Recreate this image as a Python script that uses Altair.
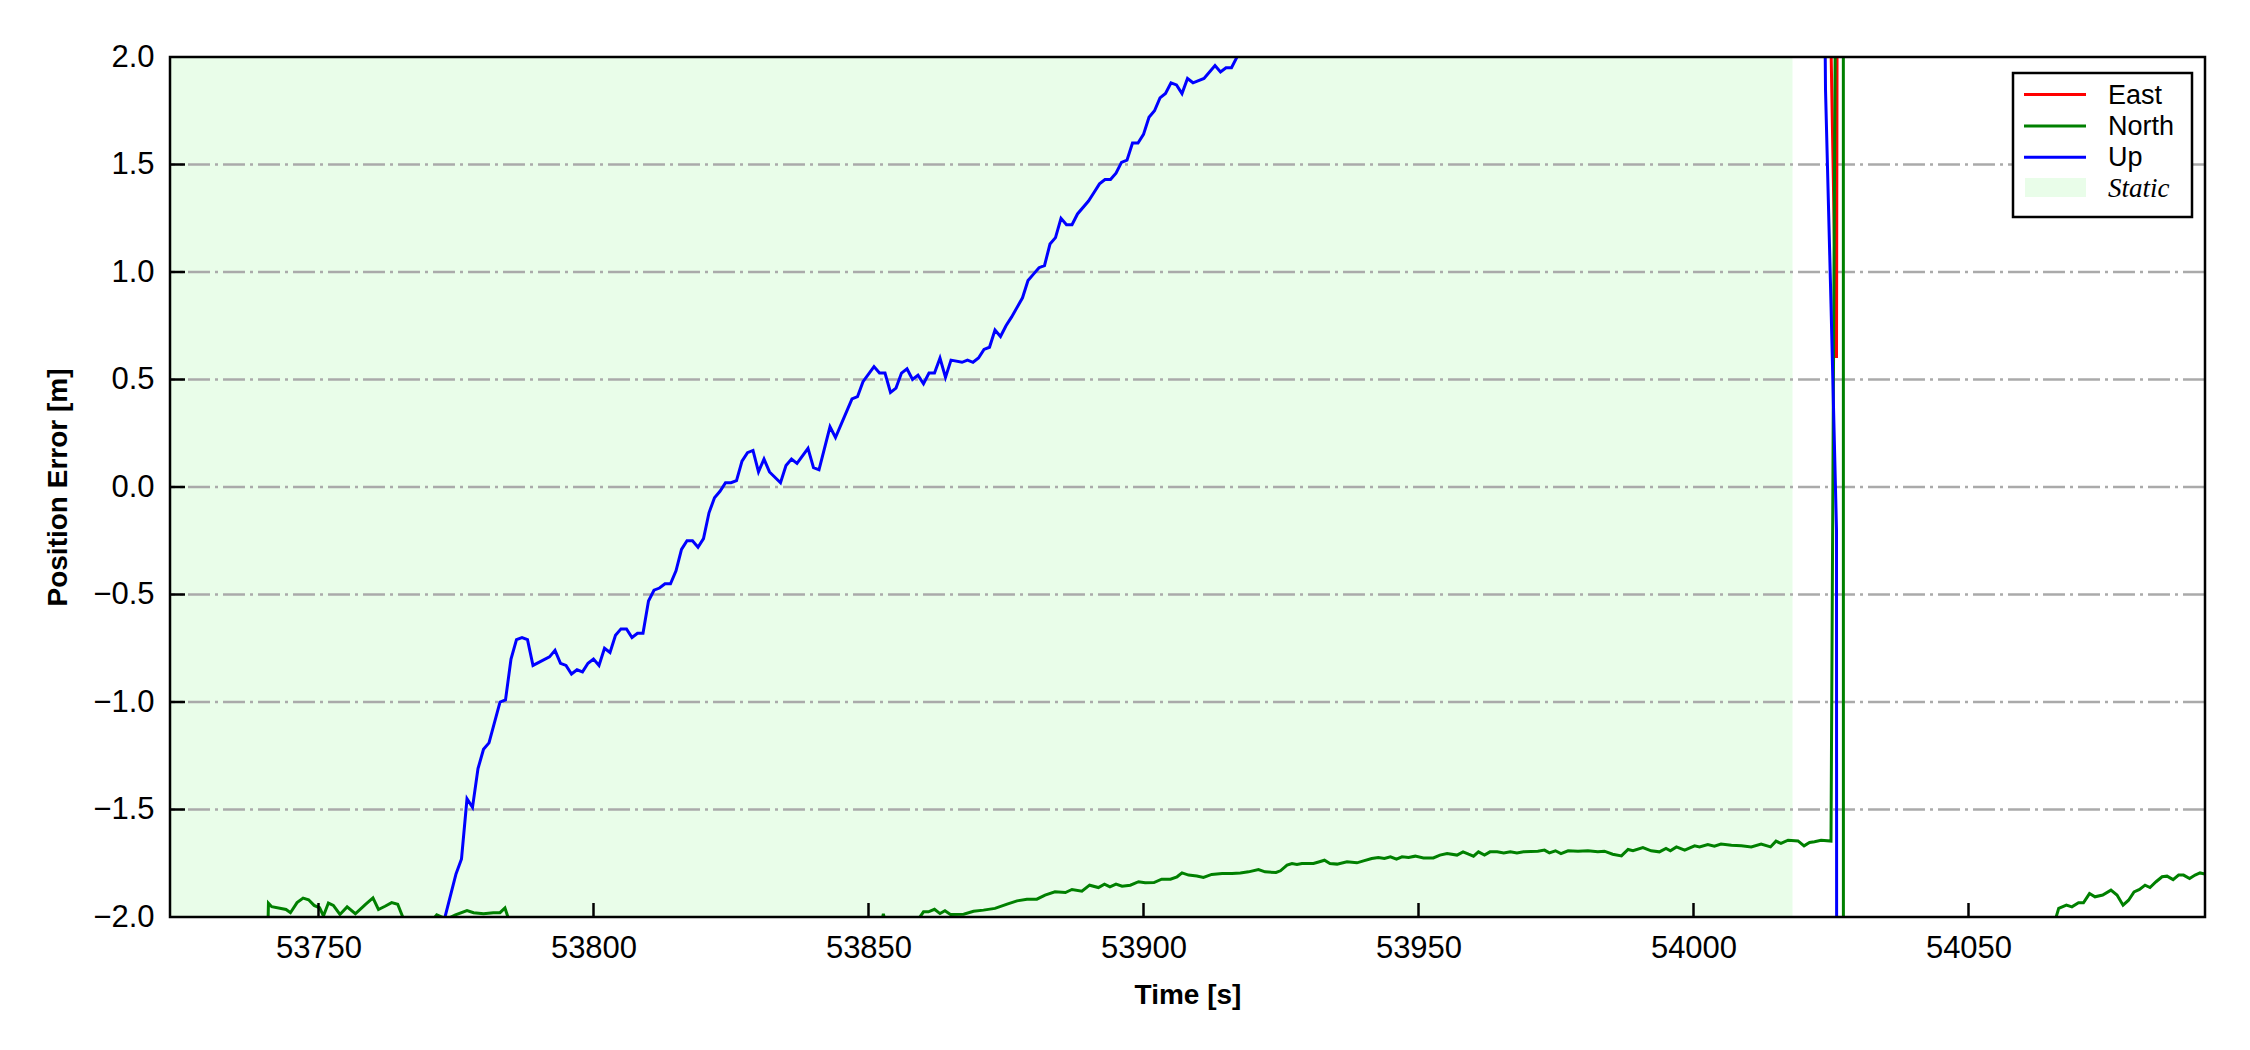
import altair as alt
import pandas as pd

# ---------------- data ----------------
X_MIN, X_MAX = 53723, 54093
Y_MIN, Y_MAX = -2.0, 2.0
X_TICKS = [53750, 53800, 53850, 53900, 53950, 54000, 54050]
Y_TICKS = [-2.0, -1.5, -1.0, -0.5, 0.0, 0.5, 1.0, 1.5, 2.0]
Y_TICKS_INNER = [-1.5, -1.0, -0.5, 0.0, 0.5, 1.0, 1.5]
STATIC_START, STATIC_END = 53723, 54018

UP_T = [53771, 53772, 53773, 53775, 53776, 53777, 53778, 53779, 53780, 53781,
        53783, 53784, 53785, 53786, 53787, 53788, 53789, 53792, 53793, 53794,
        53795, 53796, 53797, 53798, 53799, 53800, 53801, 53802, 53803, 53804,
        53805, 53806, 53807, 53808, 53809, 53810, 53811, 53812, 53813, 53814,
        53815, 53816, 53817, 53818, 53819, 53820, 53821, 53822, 53823, 53824,
        53825, 53826, 53827, 53828, 53829, 53830, 53831, 53832, 53834, 53835,
        53836, 53837, 53839, 53840, 53841, 53843, 53844, 53845, 53847, 53848,
        53849, 53851, 53852, 53853, 53854, 53855, 53856, 53857, 53858, 53859,
        53860, 53861, 53862, 53863, 53864, 53865, 53867, 53868, 53869, 53870,
        53871, 53872, 53873, 53874, 53875, 53876, 53878, 53879, 53880, 53881,
        53882, 53883, 53884, 53885, 53886, 53887, 53888, 53890, 53891, 53892,
        53893, 53894, 53895, 53896, 53897, 53898, 53899, 53900, 53901, 53902,
        53903, 53904, 53905, 53906, 53907, 53908, 53909, 53911, 53913, 53914,
        53915, 53916, 53917, 53918,
        54023, 54024, 54025, 54026, 54027]
UP_V = [-2.5, -2.3, -2.0, -1.80, -1.73, -1.45, -1.49, -1.31, -1.22, -1.19,
        -1.00, -0.99, -0.80, -0.71, -0.70, -0.71, -0.83, -0.79, -0.76, -0.82,
        -0.83, -0.87, -0.85, -0.86, -0.82, -0.80, -0.83, -0.75, -0.77, -0.69,
        -0.66, -0.66, -0.70, -0.68, -0.68, -0.53, -0.48, -0.47, -0.45, -0.45,
        -0.39, -0.29, -0.25, -0.25, -0.28, -0.24, -0.12, -0.05, -0.02, 0.02,
        0.02, 0.03, 0.12, 0.16, 0.17, 0.07, 0.13, 0.07, 0.02, 0.10,
        0.13, 0.11, 0.18, 0.09, 0.08, 0.28, 0.23, 0.29, 0.41, 0.42,
        0.49, 0.56, 0.53, 0.53, 0.44, 0.46, 0.53, 0.55, 0.50, 0.52,
        0.48, 0.53, 0.53, 0.60, 0.51, 0.59, 0.58, 0.59, 0.58, 0.60,
        0.64, 0.65, 0.73, 0.70, 0.75, 0.79, 0.88, 0.96, 0.99, 1.02,
        1.03, 1.13, 1.16, 1.25, 1.22, 1.22, 1.27, 1.33, 1.37, 1.41,
        1.43, 1.43, 1.46, 1.51, 1.52, 1.60, 1.60, 1.64, 1.72, 1.75,
        1.81, 1.83, 1.88, 1.87, 1.83, 1.90, 1.88, 1.90, 1.96, 1.93,
        1.95, 1.95, 2.00, 2.08,
        5.0, 1.85, 0.85, -0.2, -80.0]

NORTH_T = [53740.0, 53740.9, 53741.5, 53744.1, 53744.9, 53746.1, 53747.2, 53748.2,
           53749.2, 53750.2, 53750.9, 53751.8, 53752.7, 53753.9, 53755.2, 53756.7,
           53758.5, 53759.9, 53760.9, 53762.1, 53763.3, 53764.4, 53766.1, 53770.2,
           53771.5, 53773.3, 53774.9, 53777.0, 53778.2, 53780.0, 53781.8, 53783.0,
           53783.9, 53784.7, 53785.5, 53852.2, 53852.7, 53853.3, 53858.8, 53860.0,
           53860.9, 53862.0, 53863.0, 53863.9, 53864.9, 53867.3, 53869.1, 53870.9,
           53873.0, 53875.2, 53877.0, 53878.8, 53880.6, 53882.1, 53883.9, 53885.8,
           53887.0, 53888.8, 53890.2, 53891.8, 53892.9, 53893.9, 53895.0, 53896.1,
           53897.6, 53899.1, 53900.3, 53901.9, 53903.3, 53904.9, 53906.1, 53907.0,
           53908.2, 53909.7, 53910.9, 53912.4, 53914.3, 53916.1, 53917.6, 53919.1,
           53920.9, 53922.1, 53924.1, 53924.9, 53926.1, 53927.0, 53927.9, 53928.8,
           53930.9, 53932.0, 53932.9, 53933.9, 53935.2, 53937.0, 53938.8, 53940.0,
           53941.5, 53942.7, 53943.8, 53944.9, 53946.0, 53947.0, 53948.2, 53949.4,
           53950.9, 53952.7, 53953.9, 53955.2, 53957.0, 53958.1, 53959.1, 53960.0,
           53960.9, 53962.0, 53963.0, 53964.3, 53965.5, 53966.7, 53967.9, 53969.1,
           53970.4, 53971.7, 53972.9, 53973.8, 53974.9, 53975.9, 53977.2, 53979.0,
           53980.8, 53982.6, 53983.8, 53985.3, 53986.9, 53988.1, 53989.0, 53990.8,
           53992.3, 53993.8, 53995.0, 53995.8, 53996.9, 53998.4, 54000.2, 54001.1,
           54002.6, 54003.8, 54005.0, 54006.9, 54008.7, 54010.5, 54012.3, 54014.0,
           54015.0, 54015.9, 54017.2, 54019.0, 54020.1, 54021.1, 54022.0, 54023.2,
           54025.0, 54026.0, 54027.0, 54028.0,
           54065.0, 54066.4, 54067.8, 54068.8, 54070.0, 54070.9, 54072.0, 54073.0,
           54074.4, 54075.9, 54077.0, 54078.1, 54079.1, 54080.1, 54081.1, 54082.1,
           54083.0, 54084.1, 54085.2, 54086.1, 54087.2, 54088.2, 54089.1, 54090.2,
           54091.2, 54092.1, 54093.0]
NORTH_V = [-3.0, -1.936, -1.952, -1.965, -1.98, -1.933, -1.912, -1.92,
           -1.946, -1.957, -1.995, -1.935, -1.946, -1.988, -1.953, -1.985,
           -1.942, -1.911, -1.965, -1.95, -1.933, -1.941, -2.05, -2.03,
           -1.99, -2.01, -1.99, -1.97, -1.98, -1.985, -1.98, -1.98,
           -1.958, -2.02, -2.1, -2.05, -1.985, -2.05, -2.02, -1.976,
           -1.976, -1.964, -1.984, -1.971, -1.988, -1.987, -1.973, -1.968,
           -1.96, -1.94, -1.925, -1.917, -1.917, -1.898, -1.883, -1.886,
           -1.872, -1.88, -1.852, -1.863, -1.847, -1.86, -1.847, -1.857,
           -1.852, -1.836, -1.841, -1.84, -1.824, -1.824, -1.813, -1.795,
           -1.805, -1.809, -1.816, -1.802, -1.798, -1.798, -1.795, -1.79,
           -1.779, -1.79, -1.793, -1.785, -1.759, -1.751, -1.756, -1.751,
           -1.751, -1.743, -1.736, -1.751, -1.754, -1.743, -1.748, -1.739,
           -1.728, -1.723, -1.728, -1.72, -1.731, -1.72, -1.723, -1.717,
           -1.725, -1.725, -1.712, -1.705, -1.712, -1.697, -1.708, -1.717,
           -1.697, -1.712, -1.697, -1.697, -1.702, -1.697, -1.702, -1.697,
           -1.695, -1.694, -1.689, -1.702, -1.692, -1.705, -1.692, -1.694,
           -1.692, -1.697, -1.694, -1.708, -1.716, -1.686, -1.692, -1.677,
           -1.692, -1.697, -1.681, -1.692, -1.674, -1.689, -1.669, -1.674,
           -1.663, -1.671, -1.661, -1.666, -1.669, -1.674, -1.661, -1.674,
           -1.647, -1.658, -1.643, -1.646, -1.669, -1.653, -1.65, -1.643,
           -1.647, 3.2, 100.0, -300.0,
           -2.08, -1.96, -1.945, -1.953, -1.934, -1.934, -1.891, -1.906,
           -1.898, -1.875, -1.898, -1.945, -1.922, -1.883, -1.872, -1.852,
           -1.863, -1.836, -1.813, -1.81, -1.826, -1.805, -1.805, -1.821,
           -1.805, -1.795, -1.80]

EAST_T = [54024, 54025, 54026, 54027]
EAST_V = [3.5, 2.05, 0.6, 15.0]

SERIES_NAMES = ["East", "North", "Up"]
SERIES_COLORS = ["#ff0000", "#008000", "#0000ff"]
STATIC_LABEL = "Static"
STATIC_COLOR = "#e9fde9"

# ---------------- layout ----------------
W, H = 2035, 860
FONT = "Liberation Sans"

xs = alt.Scale(domain=[X_MIN, X_MAX], nice=False, zero=False)
ys = alt.Scale(domain=[Y_MIN, Y_MAX], nice=False, zero=False)

x_axis = alt.Axis(values=X_TICKS, format="d", ticks=False, domain=False, grid=False,
                  labelFont=FONT, labelFontSize=31, labelPadding=16, labelColor="black",
                  labelFlush=False, labelOverlap=False,
                  title="Time [s]", titleFont=FONT, titleFontSize=28, titleFontWeight="bold",
                  titleColor="black", titleY=86, titleBaseline="alphabetic")
y_axis = alt.Axis(values=Y_TICKS, format=".1f", ticks=False, domain=False, grid=False,
                  labelFont=FONT, labelFontSize=31, labelPadding=16, labelColor="black",
                  labelFlush=False, labelOverlap=False,
                  title="Position Error [m]", titleFont=FONT, titleFontSize=28,
                  titleFontWeight="bold", titleColor="black", titleAngle=-90,
                  titleX=-104, titleY=H / 2, titleBaseline="alphabetic", titleAlign="center")


def X(field):
    return alt.X(field, type="quantitative", scale=xs, axis=x_axis)


def Y(field):
    return alt.Y(field, type="quantitative", scale=ys, axis=y_axis)


static_df = pd.DataFrame({"start": [STATIC_START], "end": [STATIC_END]})
static = alt.Chart(static_df).mark_rect(color=STATIC_COLOR, clip=True).encode(
    x=X("start"), x2="end", y=alt.value(0), y2=alt.value(H))

grid = alt.Chart(pd.DataFrame({"v": Y_TICKS_INNER})).mark_rule(
    color="#aaaaaa", strokeWidth=2.5, strokeDash=[22, 5, 3, 5]).encode(y=Y("v"))

xticks = alt.Chart(pd.DataFrame({"t": X_TICKS})).mark_rule(color="black", strokeWidth=2.5).encode(
    x=X("t"), y=alt.value(H), y2=alt.value(H - 14))
yticks = alt.Chart(pd.DataFrame({"v": Y_TICKS_INNER})).mark_rule(color="black", strokeWidth=2.5).encode(
    y=Y("v"), x=alt.value(0), x2=alt.value(15))


def series_line(t, v, color):
    df = pd.DataFrame({"t": t, "v": v})
    return alt.Chart(df).mark_line(color=color, strokeWidth=3, clip=True).encode(
        x=X("t"), y=Y("v"), order="t:Q")


east = series_line(EAST_T, EAST_V, SERIES_COLORS[0])
north = series_line(NORTH_T, NORTH_V, SERIES_COLORS[1])
up = series_line(UP_T, UP_V, SERIES_COLORS[2])

one = pd.DataFrame({"a": [0]})

# frame around the plot area, drawn on top of the data
frame = alt.Chart(one).mark_rect(fillOpacity=0, stroke="black", strokeWidth=2.5).encode(
    x=alt.value(0), x2=alt.value(W), y=alt.value(0), y2=alt.value(H))

# ---------------- legend (drawn in the top-right corner) ----------------
LX0, LX1, LY0, LY1 = 1843, 2022, 16, 160
legend_layers = [
    alt.Chart(one).mark_rect(fill="white", stroke="black", strokeWidth=2.5).encode(
        x=alt.value(LX0), x2=alt.value(LX1), y=alt.value(LY0), y2=alt.value(LY1))
]
row_y = [37.5, 69, 100.3, 131]
for i, (name, col) in enumerate(zip(SERIES_NAMES, SERIES_COLORS)):
    legend_layers.append(
        alt.Chart(one).mark_rule(color=col, strokeWidth=3).encode(
            x=alt.value(1854), x2=alt.value(1916), y=alt.value(row_y[i])))
    legend_layers.append(
        alt.Chart(one).mark_text(align="left", baseline="middle", font=FONT, fontSize=27,
                                 color="black").encode(
            x=alt.value(1938), y=alt.value(row_y[i] + 1), text=alt.value(name)))
legend_layers.append(
    alt.Chart(one).mark_rect(fill=STATIC_COLOR).encode(
        x=alt.value(1855), x2=alt.value(1916), y=alt.value(121), y2=alt.value(140)))
legend_layers.append(
    alt.Chart(one).mark_text(align="left", baseline="middle", font="Liberation Serif",
                             fontStyle="italic", fontSize=27, color="black").encode(
        x=alt.value(1938), y=alt.value(row_y[3] + 1), text=alt.value(STATIC_LABEL)))

chart = alt.layer(static, grid, east, north, up, xticks, yticks, frame, *legend_layers).properties(
    width=W, height=H,
    autosize=alt.AutoSizeParams(type="none"),
    padding={"left": 162, "top": 49, "right": 37, "bottom": 125},
    background="white",
).configure_view(strokeWidth=0)

chart.save("out.html", embed_options={"renderer": "svg", "actions": False})
